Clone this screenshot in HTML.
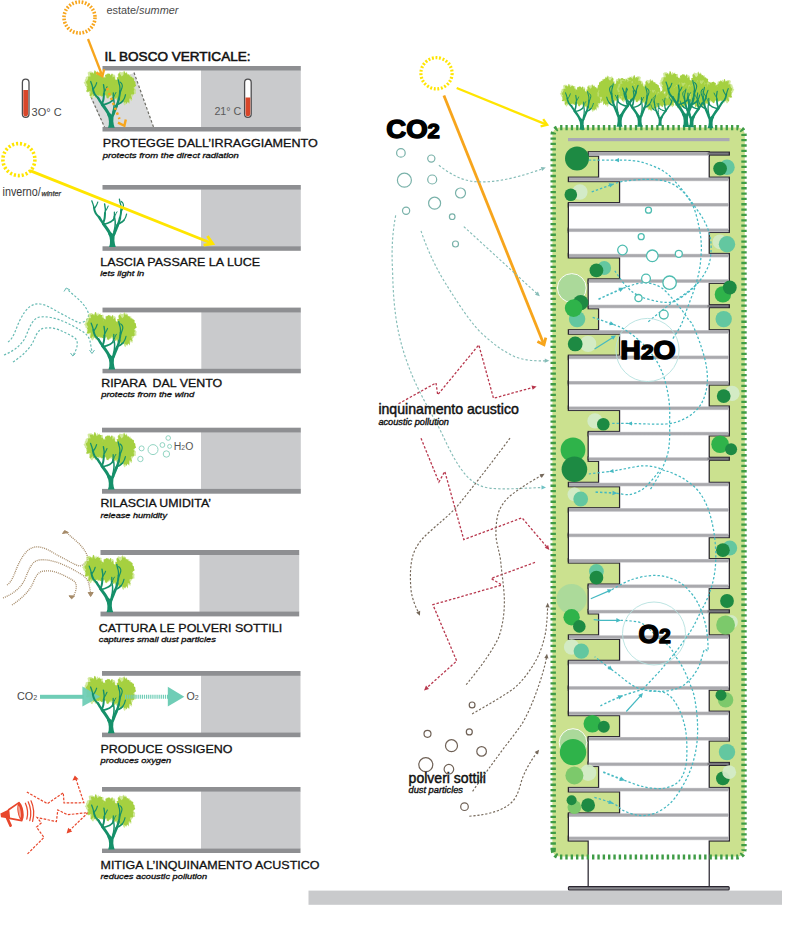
<!DOCTYPE html>
<html lang="it">
<head>
<meta charset="utf-8">
<title>Il Bosco Verticale</title>
<style>
html,body{margin:0;padding:0;background:#fff;}
body{width:800px;height:936px;overflow:hidden;font-family:"Liberation Sans",sans-serif;}
svg{display:block;}
svg text{font-family:"Liberation Sans",sans-serif;}
</style>
</head>
<body>
<svg width="800" height="936" viewBox="0 0 800 936">
<rect width="800" height="936" fill="#fff"/>
<defs>
<g id="trunk"><path d="M-3.3,0.4 L3.4,0.4 L2.5,-2.5 L2.0,-6 L2.2,-10 L3.2,-13.5 L0.6,-12.6 L-1.2,-14 L-4.0,-15.4 L-4.2,-12.5 L-2.9,-9.5 L-2.4,-6 L-2.5,-2.5 Z" fill="#15906a"/>
<path d="M-2.4,-13.0 C-2.9,-13.8 -4.4,-16.4 -5.5,-18.0 C-6.6,-19.6 -8.4,-22.0 -9.0,-22.8" fill="none" stroke="#15906a" stroke-width="3.0" stroke-linecap="round" stroke-linejoin="round"/>
<path d="M-9.0,-22.8 C-9.4,-23.4 -10.8,-25.4 -11.5,-26.5 C-12.2,-27.6 -13.1,-29.1 -13.4,-29.6" fill="none" stroke="#15906a" stroke-width="2.5" stroke-linecap="round" stroke-linejoin="round"/>
<path d="M-13.4,-29.6 C-13.9,-30.1 -15.5,-31.6 -16.2,-32.6 C-16.9,-33.6 -17.2,-34.4 -17.6,-35.5 C-18.0,-36.6 -18.3,-38.4 -18.4,-39.0" fill="none" stroke="#15906a" stroke-width="2.0" stroke-linecap="round" stroke-linejoin="round"/>
<path d="M-18.4,-39.0 C-18.6,-39.6 -19.0,-41.4 -19.4,-42.5 C-19.8,-43.6 -20.4,-45.2 -20.6,-45.8" fill="none" stroke="#15906a" stroke-width="1.3" stroke-linecap="round" stroke-linejoin="round"/>
<path d="M-17.6,-38.6 C-17.3,-39.1 -16.3,-40.5 -15.8,-41.5 C-15.3,-42.5 -14.8,-44.1 -14.6,-44.6" fill="none" stroke="#15906a" stroke-width="1.2" stroke-linecap="round" stroke-linejoin="round"/>
<path d="M-9.4,-23.2 C-9.2,-23.8 -8.5,-25.4 -8.2,-26.5 C-7.9,-27.6 -7.7,-28.8 -7.6,-30.0 C-7.5,-31.2 -7.4,-32.9 -7.4,-33.5" fill="none" stroke="#15906a" stroke-width="2.0" stroke-linecap="round" stroke-linejoin="round"/>
<path d="M-7.4,-33.5 C-7.3,-34.1 -7.0,-35.9 -7.0,-37.0 C-7.0,-38.1 -7.3,-39.1 -7.4,-40.0 C-7.5,-40.9 -7.7,-42.2 -7.8,-42.6" fill="none" stroke="#15906a" stroke-width="1.4" stroke-linecap="round" stroke-linejoin="round"/>
<path d="M-6.9,-35.6 C-6.7,-36.0 -5.9,-37.2 -5.4,-38.0 C-5.0,-38.8 -4.4,-40.2 -4.2,-40.6" fill="none" stroke="#15906a" stroke-width="1.1" stroke-linecap="round" stroke-linejoin="round"/>
<path d="M-8.4,-22.6 C-7.8,-22.7 -6.1,-23.0 -5.0,-23.4 C-3.9,-23.8 -2.6,-24.2 -1.6,-24.8 C-0.6,-25.4 0.6,-26.5 1.0,-26.8" fill="none" stroke="#15906a" stroke-width="1.7" stroke-linecap="round" stroke-linejoin="round"/>
<path d="M1.0,-26.8 C1.1,-27.4 1.7,-29.2 1.9,-30.5 C2.1,-31.8 2.0,-33.8 2.0,-34.5" fill="none" stroke="#15906a" stroke-width="1.3" stroke-linecap="round" stroke-linejoin="round"/>
<path d="M1.6,-12.6 C1.9,-13.3 2.8,-15.5 3.4,-17.0 C4.0,-18.5 4.9,-20.7 5.2,-21.4" fill="none" stroke="#15906a" stroke-width="2.9" stroke-linecap="round" stroke-linejoin="round"/>
<path d="M5.2,-21.4 C5.4,-22.0 6.2,-23.8 6.6,-25.0 C7.0,-26.2 7.4,-28.0 7.6,-28.6" fill="none" stroke="#15906a" stroke-width="2.4" stroke-linecap="round" stroke-linejoin="round"/>
<path d="M7.6,-28.6 C7.7,-29.2 8.2,-31.2 8.4,-32.5 C8.6,-33.8 8.6,-35.8 8.7,-36.4" fill="none" stroke="#15906a" stroke-width="1.9" stroke-linecap="round" stroke-linejoin="round"/>
<path d="M8.7,-36.4 C8.7,-37.2 8.7,-39.6 8.5,-41.0 C8.3,-42.4 7.8,-43.4 7.6,-44.5 C7.3,-45.6 7.1,-46.9 7.0,-47.4" fill="none" stroke="#15906a" stroke-width="1.3" stroke-linecap="round" stroke-linejoin="round"/>
<path d="M5.6,-22.4 C6.1,-22.7 7.6,-23.4 8.6,-24.0 C9.6,-24.6 10.9,-25.8 11.4,-26.2" fill="none" stroke="#15906a" stroke-width="1.7" stroke-linecap="round" stroke-linejoin="round"/>
<path d="M11.4,-26.2 C11.7,-26.7 12.7,-28.3 13.2,-29.4 C13.7,-30.5 14.0,-32.1 14.2,-32.6" fill="none" stroke="#15906a" stroke-width="1.2" stroke-linecap="round" stroke-linejoin="round"/>
<path d="M8.2,-33.0 C8.5,-33.7 9.3,-35.7 9.8,-37.0 C10.3,-38.3 10.9,-39.9 11.0,-41.0 C11.1,-42.1 10.8,-42.9 10.4,-43.6 C10.0,-44.3 9.1,-44.9 8.8,-45.2" fill="none" stroke="#15906a" stroke-width="1.2" stroke-linecap="round" stroke-linejoin="round"/>
<path d="M1.6,-15.0 C1.8,-15.8 2.4,-18.3 2.6,-20.0 C2.8,-21.7 2.9,-23.3 2.8,-25.0 C2.7,-26.7 2.1,-29.2 2.0,-30.0" fill="none" stroke="#15906a" stroke-width="1.5" stroke-linecap="round" stroke-linejoin="round"/>
<path d="M2.4,-30.0 C2.6,-30.5 3.2,-32.2 3.6,-33.0 C4.0,-33.8 4.4,-34.5 4.6,-34.8" fill="none" stroke="#15906a" stroke-width="1.0" stroke-linecap="round" stroke-linejoin="round"/></g>
<g id="leaves"><path d="M-6.0,-43.0 L-5.7,-41.5 L-4.7,-39.8 L-6.5,-38.8 L-6.8,-37.4 L-7.1,-36.0 L-8.9,-35.8 L-8.8,-33.9 L-9.4,-32.6 L-10.1,-31.1 L-12.3,-33.0 L-13.0,-31.7 L-14.2,-32.2 L-14.9,-29.0 L-16.2,-29.4 L-17.2,-32.1 L-18.9,-28.6 L-20.1,-29.1 L-20.9,-30.9 L-21.9,-31.8 L-22.0,-34.1 L-22.4,-35.4 L-24.4,-34.9 L-23.8,-37.1 L-24.6,-38.0 L-25.2,-39.1 L-24.8,-40.6 L-26.4,-41.6 L-26.4,-43.0 L-27.7,-44.6 L-26.4,-45.9 L-26.5,-47.4 L-25.6,-48.6 L-25.5,-50.2 L-24.2,-50.9 L-23.0,-51.4 L-23.7,-54.6 L-22.6,-55.6 L-21.2,-55.8 L-19.9,-55.9 L-18.4,-54.7 L-17.3,-54.6 L-16.2,-54.9 L-15.2,-54.0 L-13.7,-56.5 L-12.9,-54.7 L-11.2,-55.8 L-10.9,-53.4 L-8.8,-54.5 L-8.0,-53.1 L-9.4,-49.7 L-8.2,-49.2 L-5.6,-49.3 L-6.5,-47.2 L-4.5,-46.3 L-6.2,-44.4Z" fill="#c3e17c" opacity="0.75"/>
<path d="M6.1,-41.3 L6.6,-39.9 L6.4,-38.5 L4.9,-37.8 L4.2,-37.0 L4.7,-35.3 L3.9,-34.5 L4.4,-32.1 L3.4,-31.5 L2.5,-31.0 L1.6,-30.5 L0.8,-29.6 L-0.4,-31.1 L-1.1,-29.8 L-2.0,-30.8 L-3.0,-28.1 L-3.6,-31.4 L-5.0,-29.0 L-5.1,-32.1 L-6.6,-30.7 L-6.8,-32.6 L-7.6,-33.2 L-9.1,-33.1 L-7.9,-36.0 L-8.3,-36.9 L-10.8,-36.9 L-10.0,-38.7 L-9.1,-40.2 L-11.5,-41.3 L-11.3,-42.8 L-9.0,-43.6 L-9.5,-45.1 L-8.5,-45.8 L-8.5,-47.2 L-8.7,-48.9 L-7.2,-48.7 L-7.4,-51.1 L-5.7,-49.9 L-5.2,-50.8 L-5.0,-53.6 L-3.8,-52.4 L-2.9,-52.7 L-2.0,-53.5 L-1.1,-52.9 L-0.2,-52.4 L0.3,-50.8 L1.8,-52.7 L3.0,-52.8 L3.9,-51.9 L4.1,-50.1 L4.1,-48.3 L4.6,-47.3 L5.8,-46.7 L6.2,-45.4 L5.0,-43.6 L5.5,-42.5Z" fill="#c3e17c" opacity="0.75"/>
<path d="M23.4,-39.3 L24.8,-37.4 L24.5,-35.6 L24.7,-33.5 L22.2,-33.1 L21.8,-31.6 L21.0,-30.6 L20.4,-29.1 L20.7,-26.0 L18.6,-27.5 L18.2,-24.9 L16.8,-25.8 L15.8,-24.9 L14.8,-23.9 L13.6,-21.8 L12.4,-23.1 L11.6,-26.3 L10.4,-25.5 L9.5,-26.7 L7.3,-24.3 L6.3,-25.7 L5.4,-27.0 L4.4,-28.4 L3.9,-30.2 L2.7,-31.5 L2.7,-33.6 L4.1,-36.1 L1.9,-37.3 L3.0,-39.3 L2.2,-41.2 L3.1,-42.9 L3.8,-44.4 L4.5,-45.9 L4.8,-47.5 L5.8,-48.6 L7.0,-49.1 L6.3,-52.9 L7.4,-54.0 L8.3,-55.7 L9.9,-55.1 L11.2,-55.0 L12.3,-56.2 L13.6,-53.3 L14.9,-55.9 L15.9,-54.4 L16.7,-52.7 L17.8,-52.2 L19.3,-52.8 L19.7,-50.7 L21.0,-50.3 L22.2,-49.5 L22.3,-47.4 L22.0,-45.3 L23.6,-44.5 L23.1,-42.5 L23.2,-40.9Z" fill="#c3e17c" opacity="0.75"/>
<path d="M-8.3,-43.2 L-5.7,-41.7 L-6.2,-40.2 L-8.3,-39.6 L-7.9,-38.0 L-8.6,-37.0 L-8.6,-35.3 L-9.1,-33.8 L-11.5,-35.4 L-12.4,-35.0 L-12.0,-31.1 L-13.6,-32.4 L-14.4,-30.6 L-15.8,-33.9 L-16.7,-31.9 L-18.0,-30.8 L-18.6,-33.3 L-20.5,-30.7 L-21.6,-31.5 L-20.7,-35.6 L-21.4,-36.4 L-23.4,-35.6 L-25.3,-35.7 L-24.1,-38.2 L-23.9,-39.7 L-25.0,-40.6 L-23.7,-42.1 L-24.5,-43.2 L-25.2,-44.5 L-25.2,-45.9 L-24.0,-46.7 L-23.6,-47.8 L-23.1,-48.9 L-23.2,-50.5 L-22.0,-50.9 L-20.7,-50.7 L-21.5,-54.6 L-20.0,-54.1 L-19.0,-54.9 L-17.6,-53.2 L-16.8,-57.1 L-15.6,-56.4 L-14.8,-52.9 L-13.7,-53.6 L-12.2,-54.8 L-11.2,-54.1 L-9.7,-54.1 L-10.0,-51.4 L-8.1,-51.6 L-7.9,-50.0 L-8.5,-48.0 L-7.2,-47.3 L-5.8,-46.3 L-5.7,-44.7Z" fill="#a5d040"/>
<path d="M6.7,-41.6 L6.7,-40.1 L3.9,-39.6 L3.8,-38.5 L5.5,-36.1 L4.8,-35.1 L4.1,-34.2 L2.7,-34.3 L2.6,-32.6 L1.9,-31.8 L1.0,-31.4 L-0.2,-32.7 L-0.8,-31.3 L-1.6,-31.3 L-2.5,-29.9 L-3.5,-28.9 L-4.5,-29.4 L-5.0,-31.5 L-5.6,-32.5 L-6.0,-33.7 L-6.1,-35.2 L-6.6,-36.0 L-8.1,-35.7 L-8.1,-37.1 L-8.6,-38.1 L-10.3,-38.7 L-9.4,-40.3 L-9.6,-41.6 L-8.6,-42.7 L-7.8,-43.6 L-8.5,-45.0 L-7.7,-45.7 L-8.2,-47.6 L-8.8,-49.9 L-7.4,-50.0 L-5.9,-49.2 L-6.3,-52.4 L-5.3,-52.7 L-4.3,-52.9 L-3.5,-54.0 L-2.5,-53.5 L-1.5,-53.6 L-0.8,-51.6 L0.5,-53.9 L1.5,-53.3 L1.2,-49.7 L2.9,-51.1 L3.5,-50.1 L3.6,-48.4 L4.3,-47.6 L4.6,-46.4 L6.1,-45.9 L5.2,-44.1 L6.3,-43.0Z" fill="#a5d040"/>
<path d="M22.1,-39.6 L23.2,-37.9 L22.4,-36.4 L22.9,-34.4 L22.5,-32.7 L20.2,-33.0 L19.5,-32.0 L21.0,-27.5 L18.7,-29.0 L17.8,-28.3 L18.1,-23.5 L16.3,-25.8 L15.5,-23.3 L14.1,-25.2 L13.0,-24.2 L12.2,-27.2 L10.7,-24.9 L9.3,-24.2 L8.8,-26.8 L7.4,-26.8 L6.6,-28.3 L7.6,-31.9 L4.8,-30.7 L4.8,-32.8 L5.4,-35.0 L6.1,-36.9 L2.8,-37.7 L4.2,-39.6 L3.3,-41.4 L3.0,-43.5 L3.9,-45.0 L3.7,-47.3 L6.0,-47.3 L5.4,-50.1 L7.2,-50.0 L6.9,-53.4 L8.1,-54.2 L10.4,-50.8 L11.3,-51.6 L12.1,-52.4 L12.9,-56.9 L14.1,-53.8 L15.3,-54.7 L16.1,-52.5 L17.4,-53.0 L18.1,-51.7 L18.9,-50.6 L20.3,-50.6 L21.1,-49.3 L22.8,-48.9 L22.7,-46.6 L24.1,-45.5 L24.2,-43.4 L24.9,-41.6Z" fill="#a5d040"/>
<path d="M-3.4,-38.0 L-3.4,-37.1 L-4.2,-36.4 L-4.7,-35.8 L-5.4,-35.5 L-4.6,-33.9 L-5.2,-33.6 L-5.2,-32.4 L-6.2,-32.7 L-6.2,-31.3 L-7.2,-32.2 L-7.4,-30.5 L-8.1,-30.5 L-8.7,-31.3 L-9.3,-30.9 L-9.9,-30.6 L-10.3,-32.1 L-11.0,-31.4 L-11.8,-31.2 L-11.7,-32.9 L-12.8,-32.3 L-13.1,-33.2 L-13.8,-33.6 L-13.2,-35.1 L-12.9,-36.0 L-14.4,-36.2 L-14.6,-37.1 L-13.9,-38.0 L-13.2,-38.7 L-13.3,-39.4 L-14.0,-40.5 L-13.1,-40.9 L-13.9,-42.5 L-13.0,-42.7 L-12.0,-42.5 L-12.2,-44.0 L-11.4,-43.7 L-11.3,-45.5 L-10.7,-45.8 L-9.9,-44.9 L-9.3,-45.4 L-8.7,-45.5 L-8.0,-45.7 L-7.3,-46.0 L-7.4,-43.2 L-6.6,-43.7 L-5.9,-43.8 L-5.8,-42.7 L-5.0,-42.7 L-5.5,-41.2 L-3.9,-41.6 L-4.3,-40.4 L-4.9,-39.4 L-3.7,-38.9Z" fill="#a5d040"/>
<path d="M10.1,-36.5 L9.8,-35.7 L10.7,-34.5 L9.4,-34.2 L10.0,-32.9 L9.5,-32.3 L8.7,-32.3 L8.9,-30.7 L7.9,-31.3 L7.9,-29.8 L7.1,-30.4 L6.7,-30.1 L6.3,-28.9 L5.8,-27.5 L5.3,-29.7 L4.7,-29.5 L4.0,-28.4 L3.2,-27.8 L2.9,-29.4 L2.6,-30.3 L1.4,-29.6 L2.4,-32.3 L0.7,-31.5 L1.4,-33.2 L1.5,-34.2 L1.4,-34.9 L0.9,-35.6 L-0.1,-36.5 L1.2,-37.3 L0.5,-38.4 L0.5,-39.4 L1.3,-39.9 L1.2,-41.0 L2.3,-40.7 L2.7,-41.3 L2.9,-42.2 L2.8,-43.9 L3.6,-43.6 L4.2,-43.6 L4.6,-44.6 L5.2,-44.3 L5.8,-43.8 L6.5,-45.3 L7.0,-44.8 L7.3,-43.1 L8.1,-43.6 L8.5,-43.0 L9.4,-43.2 L9.7,-42.1 L9.3,-40.5 L10.8,-40.8 L9.5,-38.8 L10.2,-38.3 L11.0,-37.5Z" fill="#a5d040"/></g>
<g id="tree"><use href="#leaves"/><use href="#trunk"/></g>
<g id="flow3">
<path d="M8,342 C14,338 16,328 20,320 C26,308 32,303 40,304 C48,305 54,310 60,313 C68,317 74,321 80,323 C86,322 90,318 88,312 C84,302 74,296 67,289"/>
<path d="M4,355 C14,351 22,345 26,336 C30,326 33,318 40,317 C47,316 54,318 60,320 C68,323 75,327 80,330 C86,333 89,337 90,341 L92,352"/>
<path d="M13,362 C22,356 30,349 34,340 C37,332 40,328 46,328 C53,327 60,330 66,333 C72,336 76,338 77,341 C78,346 76,351 73,355"/>
</g>
</defs>
<rect x="201" y="70.0" width="99.8" height="57.5" fill="#c9cacc"/>
<rect x="102.5" y="66.0" width="198.3" height="4.5" fill="#8e8f92"/>
<rect x="102.5" y="127.0" width="198.3" height="4.5" fill="#8e8f92"/>
<rect x="201" y="189.1" width="99.8" height="57.7" fill="#c9cacc"/>
<rect x="102.5" y="185.0" width="198.3" height="4.6" fill="#8e8f92"/>
<rect x="102.5" y="246.3" width="198.3" height="4.5" fill="#8e8f92"/>
<rect x="201.3" y="311.9" width="99.5" height="57.4" fill="#c9cacc"/>
<rect x="102.5" y="307.6" width="198.3" height="4.8" fill="#8e8f92"/>
<rect x="102.5" y="368.8" width="198.3" height="4.5" fill="#8e8f92"/>
<rect x="201" y="431.9" width="99.8" height="57.5" fill="#c9cacc"/>
<rect x="102.0" y="427.7" width="198.8" height="4.7" fill="#8e8f92"/>
<rect x="102.0" y="488.9" width="198.8" height="4.8" fill="#8e8f92"/>
<rect x="199.5" y="554.5" width="99.7" height="57.6" fill="#c9cacc"/>
<rect x="100.5" y="550.0" width="198.7" height="5.0" fill="#8e8f92"/>
<rect x="100.5" y="611.6" width="198.7" height="4.8" fill="#8e8f92"/>
<rect x="201" y="675.3" width="99.5" height="57.8" fill="#c9cacc"/>
<rect x="102.0" y="671.0" width="198.5" height="4.8" fill="#8e8f92"/>
<rect x="102.0" y="732.6" width="198.5" height="4.6" fill="#8e8f92"/>
<rect x="201" y="791.1" width="99.5" height="58.0" fill="#c9cacc"/>
<rect x="102.0" y="787.0" width="198.5" height="4.6" fill="#8e8f92"/>
<rect x="102.0" y="848.6" width="198.5" height="4.4" fill="#8e8f92"/>
<text xml:space="preserve" x="102.8" y="147.1" font-size="11.8" font-weight="normal" font-style="normal" fill="#111" textLength="215" lengthAdjust="spacingAndGlyphs" stroke="#111" stroke-width="0.3">PROTEGGE DALL’IRRAGGIAMENTO</text>
<text xml:space="preserve" x="102.8" y="157.7" font-size="7.7" font-weight="normal" font-style="italic" fill="#111" textLength="136" lengthAdjust="spacingAndGlyphs" stroke="#111" stroke-width="0.3">protects from the direct radiation</text>
<text xml:space="preserve" x="100.2" y="265.7" font-size="11.8" font-weight="normal" font-style="normal" fill="#111" textLength="160" lengthAdjust="spacingAndGlyphs" stroke="#111" stroke-width="0.3">LASCIA PASSARE LA LUCE</text>
<text xml:space="preserve" x="100.2" y="276.0" font-size="7.7" font-weight="normal" font-style="italic" fill="#111" textLength="44" lengthAdjust="spacingAndGlyphs" stroke="#111" stroke-width="0.3">lets light in</text>
<text xml:space="preserve" x="101.2" y="386.8" font-size="11.8" font-weight="normal" font-style="normal" fill="#111" textLength="121" lengthAdjust="spacingAndGlyphs" stroke="#111" stroke-width="0.3">RIPARA  DAL VENTO</text>
<text xml:space="preserve" x="101.2" y="396.5" font-size="7.7" font-weight="normal" font-style="italic" fill="#111" textLength="93" lengthAdjust="spacingAndGlyphs" stroke="#111" stroke-width="0.3">protects from the wind</text>
<text xml:space="preserve" x="100.4" y="507.2" font-size="11.8" font-weight="normal" font-style="normal" fill="#111" textLength="110.6" lengthAdjust="spacingAndGlyphs" stroke="#111" stroke-width="0.3">RILASCIA UMIDITA’</text>
<text xml:space="preserve" x="100.4" y="518.0" font-size="7.7" font-weight="normal" font-style="italic" fill="#111" textLength="66.6" lengthAdjust="spacingAndGlyphs" stroke="#111" stroke-width="0.3">release humidity</text>
<text xml:space="preserve" x="98.8" y="631.9" font-size="11.8" font-weight="normal" font-style="normal" fill="#111" textLength="183.3" lengthAdjust="spacingAndGlyphs" stroke="#111" stroke-width="0.3">CATTURA LE POLVERI SOTTILI</text>
<text xml:space="preserve" x="98.8" y="642.0" font-size="7.7" font-weight="normal" font-style="italic" fill="#111" textLength="117" lengthAdjust="spacingAndGlyphs" stroke="#111" stroke-width="0.3">captures small dust particles</text>
<text xml:space="preserve" x="100.5" y="753.0" font-size="11.8" font-weight="normal" font-style="normal" fill="#111" textLength="132" lengthAdjust="spacingAndGlyphs" stroke="#111" stroke-width="0.3">PRODUCE OSSIGENO</text>
<text xml:space="preserve" x="100.5" y="763.0" font-size="7.7" font-weight="normal" font-style="italic" fill="#111" textLength="70.8" lengthAdjust="spacingAndGlyphs" stroke="#111" stroke-width="0.3">produces oxygen</text>
<text xml:space="preserve" x="100.5" y="868.6" font-size="11.8" font-weight="normal" font-style="normal" fill="#111" textLength="219" lengthAdjust="spacingAndGlyphs" stroke="#111" stroke-width="0.3">MITIGA L’INQUINAMENTO ACUSTICO</text>
<text xml:space="preserve" x="100.5" y="879.4" font-size="7.7" font-weight="normal" font-style="italic" fill="#111" textLength="106.6" lengthAdjust="spacingAndGlyphs" stroke="#111" stroke-width="0.3">reduces acoustic pollution</text>
<text xml:space="preserve" x="104.5" y="60.8" font-size="13" font-weight="normal" font-style="normal" fill="#111" textLength="146" lengthAdjust="spacingAndGlyphs" stroke="#111" stroke-width="0.55">IL BOSCO VERTICALE:</text>
<circle cx="79.5" cy="17.5" r="15.5" fill="none" stroke="#f7a51c" stroke-width="3.6" stroke-dasharray="1.7 1.55"/>
<text xml:space="preserve" x="106.4" y="14.4" font-size="10.4" font-weight="normal" font-style="normal" fill="#4a4a4a" textLength="72" lengthAdjust="spacingAndGlyphs">estate/<tspan font-style="italic">summer</tspan></text>
<path d="M91,99 L104,127 L153.5,127 L134,73 L120,78 Z" fill="#dadbdc"/>
<path d="M91,97 L104.5,127 M134,72.5 L153.5,127" fill="none" stroke="#6d6d66" stroke-width="1.2" stroke-dasharray="2.6 2"/>
<use href="#tree" x="111.3" y="127.3"/>
<path d="M88,39 L101.6,74" stroke="#f7a51c" stroke-width="2.3" fill="none"/>
<path d="M96.2,72.5 L102.4,76.2 L104.2,69.2" stroke="#f7a51c" stroke-width="2.3" fill="none" stroke-linejoin="miter"/>
<path d="M107,88 L119.5,119" stroke="#f7a51c" stroke-width="2.5" fill="none" stroke-dasharray="2.4 2.9"/>
<path d="M118,122.6 L124.4,125.8 L125.8,119.4" stroke="#f7a51c" stroke-width="2.4" fill="none"/>
<rect x="22.4" y="79.2" width="6.6" height="38.2" rx="3.3" fill="#fff" stroke="#4d4d4f" stroke-width="1.3"/>
<path d="M23.3,90 H28.099999999999998 V114.0 A2.4,2.4 0 0 1 23.3,114.0 Z" fill="#d8462a"/>
<rect x="244.6" y="79.2" width="6.6" height="38.2" rx="3.3" fill="#fff" stroke="#4d4d4f" stroke-width="1.3"/>
<path d="M245.5,97.5 H250.3 V114.0 A2.4,2.4 0 0 1 245.5,114.0 Z" fill="#d8462a"/>
<text xml:space="preserve" x="31.6" y="115.6" font-size="10.6" font-weight="normal" font-style="normal" fill="#4a4a4a" textLength="30" lengthAdjust="spacingAndGlyphs">3O° C</text>
<text xml:space="preserve" x="214.4" y="115.4" font-size="10.6" font-weight="normal" font-style="normal" fill="#5a5a5a" textLength="27" lengthAdjust="spacingAndGlyphs">21° C</text>
<circle cx="18.9" cy="159.6" r="16" fill="none" stroke="#ffe500" stroke-width="3.6" stroke-dasharray="2.1 1.9"/>
<text xml:space="preserve" x="2.6" y="196" font-size="13.4" font-weight="normal" font-style="normal" fill="#3a3a3a" textLength="38.2" lengthAdjust="spacingAndGlyphs">inverno/</text>
<text xml:space="preserve" x="41.4" y="196" font-size="6.4" font-weight="normal" font-style="italic" fill="#3a3a3a" textLength="19.6" lengthAdjust="spacingAndGlyphs" stroke="#3a3a3a" stroke-width="0.25">winter</text>
<use href="#trunk" x="112.4" y="246.6"/>
<path d="M30,170.6 L211,243" stroke="#ffe500" stroke-width="2.8" fill="none"/>
<path d="M203.6,245.2 L212.8,243.7 L207.4,236" stroke="#ffe500" stroke-width="2.8" fill="none"/>
<use href="#flow3" fill="none" stroke="#66bab3" stroke-width="1.2" stroke-dasharray="2.2 1.8"/>
<path d="M64,291.5 L66.2,288 L70,290" stroke="#66bab3" stroke-width="1" fill="none"/>
<path d="M89.5,350 L92,353.5 L94.5,350 M70.5,353 L72.8,356 L75.5,353.5" stroke="#66bab3" stroke-width="1" fill="none"/>
<use href="#tree" x="111.8" y="369"/>
<use href="#tree" x="111.2" y="489.2"/>
<circle cx="141.6" cy="448.4" r="2.5" fill="none" stroke="#86cfbb" stroke-width="0.9"/>
<circle cx="140.4" cy="459" r="2.7" fill="none" stroke="#86cfbb" stroke-width="0.9"/>
<circle cx="153" cy="449.6" r="5" fill="none" stroke="#86cfbb" stroke-width="0.9"/>
<circle cx="162.4" cy="445" r="2.4" fill="none" stroke="#86cfbb" stroke-width="0.9"/>
<circle cx="168.2" cy="438" r="2.3" fill="none" stroke="#86cfbb" stroke-width="0.9"/>
<circle cx="169.6" cy="446.4" r="2" fill="none" stroke="#86cfbb" stroke-width="0.9"/>
<circle cx="166.4" cy="454" r="3.2" fill="none" stroke="#86cfbb" stroke-width="0.9"/>
<text xml:space="preserve" x="173.8" y="450.2" font-size="10" font-weight="normal" font-style="normal" fill="#555" textLength="19.5" lengthAdjust="spacingAndGlyphs">H<tspan font-size="6.5">2</tspan>O</text>
<use href="#flow3" x="-1" y="243" fill="none" stroke="#a58a68" stroke-width="1.3" stroke-dasharray="1 1"/>
<path d="M62.5,533.5 L64.6,530.6 L68.4,532.5 Z M88.2,592.5 L90.6,596.5 L93.2,592.5 Z M69,595.8 L71.5,598.8 L74.6,596 Z" stroke="#a58a68" stroke-width="1" fill="#a58a68"/>
<use href="#tree" x="109.8" y="611.9"/>
<text xml:space="preserve" x="17" y="700.4" font-size="10.6" font-weight="normal" font-style="normal" fill="#4a4a4a" textLength="20.2" lengthAdjust="spacingAndGlyphs">CO<tspan font-size="7">2</tspan></text>
<text xml:space="preserve" x="186.4" y="700.4" font-size="10.6" font-weight="normal" font-style="normal" fill="#4a4a4a" textLength="12.2" lengthAdjust="spacingAndGlyphs">O<tspan font-size="7">2</tspan></text>
<rect x="40" y="694.8" width="44" height="4" fill="#6fcdb6"/>
<use href="#leaves" x="111.2" y="732.8"/>
<path d="M82.4,686.6 L100.2,696.7 L82.4,706.5 Z" fill="#6fcdb6" opacity="0.95"/>
<use href="#trunk" x="111.2" y="732.8"/>
<path d="M125,696.8 H168" stroke="#6fcdb6" stroke-width="4" stroke-dasharray="1.2 0.9" fill="none"/>
<path d="M167.8,686.8 L184.3,696.8 L167.8,706.6 Z" fill="#6fcdb6"/>
<path d="M26.8,792 L47.5,803.7 L63.3,792.7 L64,803 L83.9,802.7 L75.4,777.5" fill="none" stroke="#e8472c" stroke-width="1.2" stroke-dasharray="2.6 1.4"/>
<path d="M72.4,780.5 L74.8,775.6 L78.6,779.2 Z" fill="#e8472c"/>
<path d="M27.5,853.9 L44,837.4 L36.5,827.1 L41.3,823 L37.1,817.5 L56.4,821.6 L57.8,809.9 L67.4,814.7 L88,812.6 L69,831" fill="none" stroke="#e8472c" stroke-width="1.2" stroke-dasharray="2.6 1.4"/>
<path d="M66.6,833.4 L68.2,827.8 L72.2,831.4 Z" fill="#e8472c"/>
<path d="M0.4,813.4 L9.2,809.2 L10.2,818.8 L1.0,817.2 Z" fill="#e8472c"/>
<path d="M8.6,809.8 L19,802.6 M9.6,818.4 L21.8,820.6" stroke="#e8472c" stroke-width="1.7" fill="none" stroke-linecap="round"/>
<ellipse cx="20.5" cy="811.5" rx="2.9" ry="9.2" transform="rotate(-9 20.5 811.5)" fill="#e8472c"/>
<ellipse cx="19.6" cy="811.7" rx="1.1" ry="6" transform="rotate(-9 19.6 811.7)" fill="#f4a594"/>
<path d="M7.0,817.6 L10.6,825.6" stroke="#e8472c" stroke-width="2.7" fill="none" stroke-linecap="round"/>
<path d="M25.4,803.2 Q29,811 26.8,819.2 M28.2,801.8 Q32.4,810.8 29.8,820.6 M31,800.8 Q35.4,810.4 32.6,821.4" fill="none" stroke="#e8472c" stroke-width="1.25" stroke-linecap="round"/>
<use href="#tree" transform="translate(111.4,849) scale(0.96)"/>
<rect x="308.5" y="890.6" width="473.5" height="14.2" fill="#c9cacc"/>
<rect x="552.4" y="127.6" width="192.4" height="729" rx="7" fill="#cbe18f"/>
<path d="M553.2,850 V134.6 A7,7 0 0 1 560.2,127.6 H737 A7,7 0 0 1 744,134.6 V850" fill="none" stroke="#3f9c46" stroke-width="5.4" stroke-dasharray="2.3 3.04"/>
<rect x="568" y="138" width="161.5" height="3.2" fill="#a9a9b4"/>
<rect x="599.20" y="153.50" width="109.40" height="25.63" fill="#2a2630" stroke="#2a2630" stroke-width="2.5"/>
<rect x="620.20" y="178.93" width="108.50" height="25.63" fill="#2a2630" stroke="#2a2630" stroke-width="2.5"/>
<rect x="569.00" y="204.36" width="159.70" height="25.63" fill="#2a2630" stroke="#2a2630" stroke-width="2.5"/>
<rect x="569.00" y="229.79" width="139.60" height="25.63" fill="#2a2630" stroke="#2a2630" stroke-width="2.5"/>
<rect x="620.20" y="255.22" width="108.50" height="25.63" fill="#2a2630" stroke="#2a2630" stroke-width="2.5"/>
<rect x="588.80" y="280.65" width="119.80" height="25.63" fill="#2a2630" stroke="#2a2630" stroke-width="2.5"/>
<rect x="599.20" y="306.08" width="109.40" height="25.63" fill="#2a2630" stroke="#2a2630" stroke-width="2.5"/>
<rect x="620.20" y="331.51" width="108.50" height="25.63" fill="#2a2630" stroke="#2a2630" stroke-width="2.5"/>
<rect x="569.00" y="356.94" width="159.70" height="25.63" fill="#2a2630" stroke="#2a2630" stroke-width="2.5"/>
<rect x="569.00" y="382.37" width="139.60" height="25.63" fill="#2a2630" stroke="#2a2630" stroke-width="2.5"/>
<rect x="620.20" y="407.80" width="108.50" height="25.63" fill="#2a2630" stroke="#2a2630" stroke-width="2.5"/>
<rect x="588.80" y="433.23" width="119.80" height="25.63" fill="#2a2630" stroke="#2a2630" stroke-width="2.5"/>
<rect x="599.20" y="458.66" width="109.40" height="25.63" fill="#2a2630" stroke="#2a2630" stroke-width="2.5"/>
<rect x="620.20" y="484.09" width="108.50" height="25.63" fill="#2a2630" stroke="#2a2630" stroke-width="2.5"/>
<rect x="569.00" y="509.52" width="159.70" height="25.63" fill="#2a2630" stroke="#2a2630" stroke-width="2.5"/>
<rect x="569.00" y="534.95" width="139.60" height="25.63" fill="#2a2630" stroke="#2a2630" stroke-width="2.5"/>
<rect x="620.20" y="560.38" width="108.50" height="25.63" fill="#2a2630" stroke="#2a2630" stroke-width="2.5"/>
<rect x="588.80" y="585.81" width="119.80" height="25.63" fill="#2a2630" stroke="#2a2630" stroke-width="2.5"/>
<rect x="599.20" y="611.24" width="109.40" height="25.63" fill="#2a2630" stroke="#2a2630" stroke-width="2.5"/>
<rect x="620.20" y="636.67" width="108.50" height="25.63" fill="#2a2630" stroke="#2a2630" stroke-width="2.5"/>
<rect x="569.00" y="662.10" width="159.70" height="25.63" fill="#2a2630" stroke="#2a2630" stroke-width="2.5"/>
<rect x="569.00" y="687.53" width="139.60" height="25.63" fill="#2a2630" stroke="#2a2630" stroke-width="2.5"/>
<rect x="620.20" y="712.96" width="108.50" height="25.63" fill="#2a2630" stroke="#2a2630" stroke-width="2.5"/>
<rect x="588.80" y="738.39" width="119.80" height="25.63" fill="#2a2630" stroke="#2a2630" stroke-width="2.5"/>
<rect x="599.20" y="763.82" width="109.40" height="25.63" fill="#2a2630" stroke="#2a2630" stroke-width="2.5"/>
<rect x="620.20" y="789.25" width="108.50" height="25.63" fill="#2a2630" stroke="#2a2630" stroke-width="2.5"/>
<rect x="569.00" y="814.68" width="159.70" height="25.63" fill="#2a2630" stroke="#2a2630" stroke-width="2.5"/>
<rect x="588.80" y="839.11" width="119.80" height="48.39" fill="#2a2630" stroke="#2a2630" stroke-width="2.5"/>
<rect x="588.80" y="152.40" width="119.80" height="3.10" fill="#2a2630" stroke="#2a2630" stroke-width="2.5"/>
<rect x="569.00" y="177.83" width="159.70" height="3.10" fill="#2a2630" stroke="#2a2630" stroke-width="2.5"/>
<rect x="569.00" y="203.26" width="159.70" height="3.10" fill="#2a2630" stroke="#2a2630" stroke-width="2.5"/>
<rect x="569.00" y="228.69" width="159.70" height="3.10" fill="#2a2630" stroke="#2a2630" stroke-width="2.5"/>
<rect x="569.00" y="254.12" width="159.70" height="3.10" fill="#2a2630" stroke="#2a2630" stroke-width="2.5"/>
<rect x="588.80" y="279.55" width="139.90" height="3.10" fill="#2a2630" stroke="#2a2630" stroke-width="2.5"/>
<rect x="588.80" y="304.98" width="119.80" height="3.10" fill="#2a2630" stroke="#2a2630" stroke-width="2.5"/>
<rect x="569.00" y="330.41" width="159.70" height="3.10" fill="#2a2630" stroke="#2a2630" stroke-width="2.5"/>
<rect x="569.00" y="355.84" width="159.70" height="3.10" fill="#2a2630" stroke="#2a2630" stroke-width="2.5"/>
<rect x="569.00" y="381.27" width="159.70" height="3.10" fill="#2a2630" stroke="#2a2630" stroke-width="2.5"/>
<rect x="569.00" y="406.70" width="159.70" height="3.10" fill="#2a2630" stroke="#2a2630" stroke-width="2.5"/>
<rect x="588.80" y="432.13" width="139.90" height="3.10" fill="#2a2630" stroke="#2a2630" stroke-width="2.5"/>
<rect x="588.80" y="457.56" width="119.80" height="3.10" fill="#2a2630" stroke="#2a2630" stroke-width="2.5"/>
<rect x="569.00" y="482.99" width="159.70" height="3.10" fill="#2a2630" stroke="#2a2630" stroke-width="2.5"/>
<rect x="569.00" y="508.42" width="159.70" height="3.10" fill="#2a2630" stroke="#2a2630" stroke-width="2.5"/>
<rect x="569.00" y="533.85" width="159.70" height="3.10" fill="#2a2630" stroke="#2a2630" stroke-width="2.5"/>
<rect x="569.00" y="559.28" width="159.70" height="3.10" fill="#2a2630" stroke="#2a2630" stroke-width="2.5"/>
<rect x="588.80" y="584.71" width="139.90" height="3.10" fill="#2a2630" stroke="#2a2630" stroke-width="2.5"/>
<rect x="588.80" y="610.14" width="119.80" height="3.10" fill="#2a2630" stroke="#2a2630" stroke-width="2.5"/>
<rect x="569.00" y="635.57" width="159.70" height="3.10" fill="#2a2630" stroke="#2a2630" stroke-width="2.5"/>
<rect x="569.00" y="661.00" width="159.70" height="3.10" fill="#2a2630" stroke="#2a2630" stroke-width="2.5"/>
<rect x="569.00" y="686.43" width="159.70" height="3.10" fill="#2a2630" stroke="#2a2630" stroke-width="2.5"/>
<rect x="569.00" y="711.86" width="159.70" height="3.10" fill="#2a2630" stroke="#2a2630" stroke-width="2.5"/>
<rect x="588.80" y="737.29" width="139.90" height="3.10" fill="#2a2630" stroke="#2a2630" stroke-width="2.5"/>
<rect x="588.80" y="762.72" width="119.80" height="3.10" fill="#2a2630" stroke="#2a2630" stroke-width="2.5"/>
<rect x="569.00" y="788.15" width="159.70" height="3.10" fill="#2a2630" stroke="#2a2630" stroke-width="2.5"/>
<rect x="569.00" y="813.58" width="159.70" height="3.10" fill="#2a2630" stroke="#2a2630" stroke-width="2.5"/>
<rect x="569.00" y="836.81" width="159.70" height="3.10" fill="#2a2630" stroke="#2a2630" stroke-width="2.5"/>
<rect x="707.60" y="152.80" width="21.10" height="1.60" fill="#2a2630" stroke="#2a2630" stroke-width="2.5"/>
<rect x="707.60" y="305.38" width="21.10" height="1.60" fill="#2a2630" stroke="#2a2630" stroke-width="2.5"/>
<rect x="707.60" y="457.96" width="21.10" height="1.60" fill="#2a2630" stroke="#2a2630" stroke-width="2.5"/>
<rect x="707.60" y="610.54" width="21.10" height="1.60" fill="#2a2630" stroke="#2a2630" stroke-width="2.5"/>
<rect x="707.60" y="763.12" width="21.10" height="1.60" fill="#2a2630" stroke="#2a2630" stroke-width="2.5"/>
<defs><linearGradient id="slab" x1="0" y1="0" x2="0" y2="1"><stop offset="0" stop-color="#c6c6ca"/><stop offset="0.3" stop-color="#a9a9ad"/><stop offset="0.7" stop-color="#a9a9ad"/><stop offset="1" stop-color="#d2d2d5"/></linearGradient></defs>
<rect x="599.20" y="153.50" width="109.40" height="25.63" fill="#fff"/>
<rect x="620.20" y="178.93" width="108.50" height="25.63" fill="#fff"/>
<rect x="569.00" y="204.36" width="159.70" height="25.63" fill="#fff"/>
<rect x="569.00" y="229.79" width="139.60" height="25.63" fill="#fff"/>
<rect x="620.20" y="255.22" width="108.50" height="25.63" fill="#fff"/>
<rect x="588.80" y="280.65" width="119.80" height="25.63" fill="#fff"/>
<rect x="599.20" y="306.08" width="109.40" height="25.63" fill="#fff"/>
<rect x="620.20" y="331.51" width="108.50" height="25.63" fill="#fff"/>
<rect x="569.00" y="356.94" width="159.70" height="25.63" fill="#fff"/>
<rect x="569.00" y="382.37" width="139.60" height="25.63" fill="#fff"/>
<rect x="620.20" y="407.80" width="108.50" height="25.63" fill="#fff"/>
<rect x="588.80" y="433.23" width="119.80" height="25.63" fill="#fff"/>
<rect x="599.20" y="458.66" width="109.40" height="25.63" fill="#fff"/>
<rect x="620.20" y="484.09" width="108.50" height="25.63" fill="#fff"/>
<rect x="569.00" y="509.52" width="159.70" height="25.63" fill="#fff"/>
<rect x="569.00" y="534.95" width="139.60" height="25.63" fill="#fff"/>
<rect x="620.20" y="560.38" width="108.50" height="25.63" fill="#fff"/>
<rect x="588.80" y="585.81" width="119.80" height="25.63" fill="#fff"/>
<rect x="599.20" y="611.24" width="109.40" height="25.63" fill="#fff"/>
<rect x="620.20" y="636.67" width="108.50" height="25.63" fill="#fff"/>
<rect x="569.00" y="662.10" width="159.70" height="25.63" fill="#fff"/>
<rect x="569.00" y="687.53" width="139.60" height="25.63" fill="#fff"/>
<rect x="620.20" y="712.96" width="108.50" height="25.63" fill="#fff"/>
<rect x="588.80" y="738.39" width="119.80" height="25.63" fill="#fff"/>
<rect x="599.20" y="763.82" width="109.40" height="25.63" fill="#fff"/>
<rect x="620.20" y="789.25" width="108.50" height="25.63" fill="#fff"/>
<rect x="569.00" y="814.68" width="159.70" height="25.63" fill="#fff"/>
<rect x="588.80" y="839.11" width="119.80" height="48.39" fill="#fff"/>
<rect x="588.80" y="152.10" width="119.80" height="3.70" fill="url(#slab)"/>
<rect x="569.00" y="177.53" width="159.70" height="3.70" fill="url(#slab)"/>
<rect x="569.00" y="202.96" width="159.70" height="3.70" fill="url(#slab)"/>
<rect x="569.00" y="228.39" width="159.70" height="3.70" fill="url(#slab)"/>
<rect x="569.00" y="253.82" width="159.70" height="3.70" fill="url(#slab)"/>
<rect x="588.80" y="279.25" width="139.90" height="3.70" fill="url(#slab)"/>
<rect x="588.80" y="304.68" width="119.80" height="3.70" fill="url(#slab)"/>
<rect x="569.00" y="330.11" width="159.70" height="3.70" fill="url(#slab)"/>
<rect x="569.00" y="355.54" width="159.70" height="3.70" fill="url(#slab)"/>
<rect x="569.00" y="380.97" width="159.70" height="3.70" fill="url(#slab)"/>
<rect x="569.00" y="406.40" width="159.70" height="3.70" fill="url(#slab)"/>
<rect x="588.80" y="431.83" width="139.90" height="3.70" fill="url(#slab)"/>
<rect x="588.80" y="457.26" width="119.80" height="3.70" fill="url(#slab)"/>
<rect x="569.00" y="482.69" width="159.70" height="3.70" fill="url(#slab)"/>
<rect x="569.00" y="508.12" width="159.70" height="3.70" fill="url(#slab)"/>
<rect x="569.00" y="533.55" width="159.70" height="3.70" fill="url(#slab)"/>
<rect x="569.00" y="558.98" width="159.70" height="3.70" fill="url(#slab)"/>
<rect x="588.80" y="584.41" width="139.90" height="3.70" fill="url(#slab)"/>
<rect x="588.80" y="609.84" width="119.80" height="3.70" fill="url(#slab)"/>
<rect x="569.00" y="635.27" width="159.70" height="3.70" fill="url(#slab)"/>
<rect x="569.00" y="660.70" width="159.70" height="3.70" fill="url(#slab)"/>
<rect x="569.00" y="686.13" width="159.70" height="3.70" fill="url(#slab)"/>
<rect x="569.00" y="711.56" width="159.70" height="3.70" fill="url(#slab)"/>
<rect x="588.80" y="736.99" width="139.90" height="3.70" fill="url(#slab)"/>
<rect x="588.80" y="762.42" width="119.80" height="3.70" fill="url(#slab)"/>
<rect x="569.00" y="787.85" width="159.70" height="3.70" fill="url(#slab)"/>
<rect x="569.00" y="813.28" width="159.70" height="3.70" fill="url(#slab)"/>
<rect x="569.00" y="836.51" width="159.70" height="3.70" fill="url(#slab)"/>
<rect x="707.60" y="152.50" width="21.10" height="2.20" fill="#77777c"/>
<rect x="707.60" y="305.08" width="21.10" height="2.20" fill="#77777c"/>
<rect x="707.60" y="457.66" width="21.10" height="2.20" fill="#77777c"/>
<rect x="707.60" y="610.24" width="21.10" height="2.20" fill="#77777c"/>
<rect x="707.60" y="762.82" width="21.10" height="2.20" fill="#77777c"/>
<path d="M553.2,850 A7,7 0 0 0 560.2,857 H737 A7,7 0 0 0 744,850" fill="none" stroke="#3f9c46" stroke-width="5" stroke-dasharray="2.4 2.94"/>
<rect x="568.4" y="886.6" width="160.8" height="3.4" rx="1" fill="#8a8a8f" stroke="#2a2630" stroke-width="1.1"/>
<circle cx="577" cy="158.6" r="12" fill="#1d8a43" opacity="1"/>
<circle cx="727" cy="167.3" r="7.7" fill="#63c7a0" opacity="1"/>
<circle cx="720.1" cy="168.6" r="6.9" fill="#1d8a43" opacity="1"/>
<circle cx="579.9" cy="192" r="7.7" fill="#d3ebc8" opacity="1"/>
<circle cx="570.8" cy="194.8" r="6.3" fill="#1d8a43" opacity="1"/>
<circle cx="720" cy="241.8" r="7.4" fill="#d3ebc8" opacity="0.9"/>
<circle cx="727" cy="244.3" r="8.2" fill="#63c7a0" opacity="1"/>
<circle cx="604.2" cy="268" r="6.9" fill="#63c7a0" opacity="1"/>
<circle cx="596.4" cy="270.4" r="6.9" fill="#1d8a43" opacity="1"/>
<circle cx="571.8" cy="288" r="14.4" fill="#a9d99b" stroke="#fff" stroke-width="1" opacity="0.92"/>
<circle cx="577.1" cy="319.1" r="8.2" fill="#63c7a0" opacity="1"/>
<circle cx="580.7" cy="302.6" r="7.7" fill="#1d8a43" opacity="1"/>
<circle cx="573.6" cy="308.1" r="8.8" fill="#2fb34a" opacity="1"/>
<circle cx="722.9" cy="294.4" r="8.2" fill="#2fb34a" opacity="1"/>
<circle cx="729.8" cy="287.5" r="6.9" fill="#1d8a43" opacity="1"/>
<circle cx="723.7" cy="319.1" r="8.2" fill="#63c7a0" opacity="1"/>
<circle cx="588.1" cy="343.9" r="8.2" fill="#d3ebc8" opacity="0.95"/>
<circle cx="575.2" cy="343.9" r="7.4" fill="#1d8a43" opacity="1"/>
<circle cx="732" cy="393.4" r="7.7" fill="#d3ebc8" opacity="0.95"/>
<circle cx="723.7" cy="396.1" r="6.9" fill="#1d8a43" opacity="1"/>
<circle cx="595" cy="420.9" r="7.7" fill="#d3ebc8" opacity="0.95"/>
<circle cx="603.3" cy="424.2" r="6.3" fill="#1d8a43" opacity="1"/>
<circle cx="573" cy="449.8" r="12.4" fill="#2fb34a" opacity="1"/>
<circle cx="574.4" cy="469.2" r="12.8" fill="#1d8a43" opacity="1"/>
<circle cx="720.1" cy="444.3" r="8.8" fill="#2fb34a" opacity="1"/>
<circle cx="731.1" cy="449.2" r="6" fill="#1d8a43" opacity="1"/>
<circle cx="574.4" cy="494.4" r="6.9" fill="#d3ebc8" opacity="0.95"/>
<circle cx="580.7" cy="499" r="7.4" fill="#63c7a0" opacity="1"/>
<circle cx="729.8" cy="548" r="7.4" fill="#63c7a0" opacity="1"/>
<circle cx="722.9" cy="550.2" r="6.9" fill="#1d8a43" opacity="1"/>
<circle cx="596.4" cy="571.4" r="7.4" fill="#63c7a0" opacity="1"/>
<circle cx="596.4" cy="577.7" r="6.9" fill="#1d8a43" opacity="1"/>
<circle cx="571.6" cy="598.9" r="15" fill="#a9d99b" opacity="0.92"/>
<circle cx="571.6" cy="617.3" r="8.2" fill="#2fb34a" opacity="1"/>
<circle cx="579.3" cy="626.4" r="6.3" fill="#1d8a43" opacity="1"/>
<circle cx="727" cy="601" r="6.9" fill="#1d8a43" opacity="1"/>
<circle cx="731" cy="622" r="6.9" fill="#d3ebc8" opacity="0.95"/>
<circle cx="725.6" cy="625" r="9.4" fill="#7cc96b" opacity="1"/>
<circle cx="571.6" cy="647" r="7.7" fill="#d3ebc8" opacity="0.95"/>
<circle cx="581.3" cy="651.1" r="7.7" fill="#63c7a0" opacity="1"/>
<circle cx="725.6" cy="699.9" r="7.7" fill="#7cc96b" opacity="1"/>
<circle cx="721" cy="695.2" r="5.5" fill="#1d8a43" opacity="1"/>
<circle cx="592.3" cy="723.8" r="8.8" fill="#2fb34a" opacity="1"/>
<circle cx="603.8" cy="726.8" r="6" fill="#1d8a43" opacity="1"/>
<circle cx="573" cy="742.5" r="13.8" fill="#a9d99b" stroke="#fff" stroke-width="1" opacity="0.92"/>
<circle cx="573" cy="752.1" r="13.2" fill="#2fb34a" opacity="1"/>
<circle cx="727" cy="752.1" r="8.2" fill="#63c7a0" opacity="1"/>
<circle cx="588.1" cy="772.8" r="8.2" fill="#d3ebc8" opacity="0.95"/>
<circle cx="574.4" cy="775.5" r="9" fill="#7cc96b" opacity="1"/>
<circle cx="722.9" cy="778.3" r="6.9" fill="#1d8a43" opacity="1"/>
<circle cx="729.2" cy="772.2" r="6.9" fill="#d3ebc8" opacity="0.95"/>
<circle cx="574.4" cy="807.1" r="6.9" fill="#7cc96b" opacity="1"/>
<circle cx="571.6" cy="800.3" r="5" fill="#1d8a43" opacity="1"/>
<circle cx="588.1" cy="805.2" r="6.9" fill="#1d8a43" opacity="1"/>
<use href="#leaves" transform="translate(582.0,129.5) scale(0.80,0.80)"/>
<use href="#leaves" transform="translate(619.5,126.5) scale(-0.90,0.90)"/>
<use href="#leaves" transform="translate(639.8,126.5) scale(0.84,0.84)"/>
<use href="#leaves" transform="translate(660.0,125.5) scale(-0.64,0.64)"/>
<use href="#leaves" transform="translate(686.0,126.5) scale(0.97,0.97)"/>
<use href="#leaves" transform="translate(691.5,127.0) scale(-0.80,0.80)"/>
<use href="#leaves" transform="translate(710.5,128.0) scale(-0.86,0.86)"/>
<use href="#trunk" transform="translate(582.0,129.5) scale(0.80,0.80)"/>
<use href="#trunk" transform="translate(619.5,126.5) scale(-0.90,0.90)"/>
<use href="#trunk" transform="translate(639.8,126.5) scale(0.84,0.84)"/>
<use href="#trunk" transform="translate(660.0,125.5) scale(-0.64,0.64)"/>
<use href="#trunk" transform="translate(686.0,126.5) scale(0.97,0.97)"/>
<use href="#trunk" transform="translate(691.5,127.0) scale(-0.80,0.80)"/>
<use href="#trunk" transform="translate(710.5,128.0) scale(-0.86,0.86)"/>
<circle cx="436.5" cy="73.3" r="15.6" fill="none" stroke="#ffe500" stroke-width="3.2" stroke-dasharray="1.9 1.7"/>
<path d="M456.7,88 L546,124.4" stroke="#ffe500" stroke-width="2.3" fill="none"/>
<path d="M540.6,126.4 L547.2,124.8 L543.2,119.2" stroke="#ffe500" stroke-width="2.3" fill="none"/>
<path d="M443.9,95.6 L543.2,342.8" stroke="#f7a51c" stroke-width="2.8" fill="none"/>
<path d="M537.4,341.4 L544.0,344.8 L545.8,337.6" stroke="#f7a51c" stroke-width="2.8" fill="none"/>
<circle cx="400.9" cy="152.9" r="4.3" fill="none" stroke="#7ab2aa" stroke-width="1.2"/>
<circle cx="431.3" cy="158.6" r="3.6" fill="none" stroke="#7ab2aa" stroke-width="1.2"/>
<circle cx="404.4" cy="180.2" r="7" fill="none" stroke="#7ab2aa" stroke-width="1.2"/>
<circle cx="432.2" cy="179.5" r="4.5" fill="none" stroke="#7ab2aa" stroke-width="1.2"/>
<circle cx="460.5" cy="193" r="5" fill="none" stroke="#7ab2aa" stroke-width="1.2"/>
<circle cx="434.6" cy="203.2" r="6" fill="none" stroke="#7ab2aa" stroke-width="1.2"/>
<circle cx="406.1" cy="210.8" r="3.6" fill="none" stroke="#7ab2aa" stroke-width="1.2"/>
<circle cx="452.2" cy="216.7" r="2.8" fill="none" stroke="#7ab2aa" stroke-width="1.2"/>
<circle cx="455.5" cy="244" r="3" fill="none" stroke="#7ab2aa" stroke-width="1.2"/>
<path d="M438.9,165.2 C450,174 462,181 476.9,181.8 C500,183 525,175 543,168.6" fill="none" stroke="#86bdb8" stroke-width="1.15" stroke-dasharray="2.4 2"/>
<path d="M542.1,171.0 L545.8,167.6 L540.8,167.0 Z" fill="#86bdb8"/>
<path d="M463.8,226.6 L538,294.6" fill="none" stroke="#86bdb8" stroke-width="1.15" stroke-dasharray="2.4 2"/>
<path d="M535.0,294.7 L539.8,296.2 L537.9,291.6 Z" fill="#86bdb8"/>
<path d="M421,230.9 C428,252 438,272 448.4,287.9 C458,303 468,319 480,331.8 C491,342 502,351 515.3,357 C526,360.6 536,361 546,360.8" fill="none" stroke="#86bdb8" stroke-width="1.15" stroke-dasharray="2.4 2"/>
<path d="M544.7,362.8 L549.3,360.8 L544.8,358.5 Z" fill="#86bdb8"/>
<path d="M395.7,215.4 C392,235 391.5,252 392.6,271.3 C393,290 394,304 396.1,318.8 C399,338 404,355 410.4,371 C416,386 426,404 438.9,427.5 C446,442 452,456 460.3,467.9 C468,479 476,486 488.8,488 C505,490 525,488 543,487.5" fill="none" stroke="#86bdb8" stroke-width="1.15" stroke-dasharray="2.4 2"/>
<path d="M541.5,489.5 L546.0,487.4 L541.5,485.3 Z" fill="#6fc2c4"/>
<path d="M398.5,403.8 L436,382.9 L437.7,394.8 L478.8,344.9 L493.5,398.3 L533,387.4" fill="none" stroke="#b8384e" stroke-width="1.3" stroke-dasharray="2.5 1.8"/>
<path d="M532.7,389.8 L536.6,386.4 L531.5,385.6 Z" fill="#b8384e"/>
<path d="M421,438.2 L438.9,482.1 L444.8,471.4 L463.8,539.6 L522,517.8 L547.4,547.6" fill="none" stroke="#b8384e" stroke-width="1.3" stroke-dasharray="2.5 1.8"/>
<path d="M544.7,547.8 L549.4,550.0 L548.1,545.0 Z" fill="#b8384e"/>
<path d="M535,562.4 L491.1,578.5 L501.8,585 L432.9,604.7 L456.7,661 L426.6,688" fill="none" stroke="#b8384e" stroke-width="1.3" stroke-dasharray="2.5 1.8"/>
<path d="M426.0,685.6 L424.0,690.4 L429.0,688.9 Z" fill="#b8384e"/>
<path d="M510,438.2 C492,462 474,486 455.5,508.3 C446,518 438,524 429.4,532 C420,540 415,548 412.8,555.8 C410,566 410,578 411,590 C412,598 415,606 418.6,612.6" fill="none" stroke="#75685a" stroke-width="1.15" stroke-dasharray="2.2 1.8"/>
<path d="M416.2,612.4 L419.9,615.8 L420.2,610.8 Z" fill="#75685a"/>
<path d="M466.2,684.7 C478,670 490,655 498.3,638.4 C503,626 505,610 504.2,595.6 C503.5,583 501.5,572 500.6,560 C499,550 496,542 495.9,534.4 C496,526 496.5,519 498.3,513 C501,505 506,499 512.5,494 C522,487 533,480 542,475.2" fill="none" stroke="#75685a" stroke-width="1.15" stroke-dasharray="2.2 1.8"/>
<path d="M541.7,477.9 L544.6,473.8 L539.6,474.2 Z" fill="#75685a"/>
<path d="M472.1,713.9 C486,706 500,698 512.5,689.5 C522,682 530,671 536.3,659.8 C541,651 544,641 545.8,631.3 C547,622 547.5,613 547.6,606" fill="none" stroke="#75685a" stroke-width="1.15" stroke-dasharray="2.2 1.8"/>
<path d="M549.7,607.4 L547.7,602.8 L545.5,607.3 Z" fill="#75685a"/>
<path d="M472.6,791.3 C481,779 490,767 498.3,755.6 C506,745 515,734 522,723.9 C529,712 534,699 538.6,685.9 C542,676 545,666 546.6,657" fill="none" stroke="#75685a" stroke-width="1.15" stroke-dasharray="2.2 1.8"/>
<path d="M548.5,658.6 L547.0,653.8 L544.3,658.0 Z" fill="#75685a"/>
<path d="M469.3,816.2 C479,815.5 488,814 495.9,811.4 C504,808.5 511,804.5 514.9,798.4 C519,792 520,785.5 522,779.4 C524.5,772.5 528,766 531.5,760.4 C533.5,757 536,754 537.6,751.6" fill="none" stroke="#75685a" stroke-width="1.15" stroke-dasharray="2.2 1.8"/>
<path d="M538.0,754.6 L539.1,749.7 L534.6,752.0 Z" fill="#75685a"/>
<circle cx="472.1" cy="704.9" r="2.9" fill="none" stroke="#6f6156" stroke-width="1.2"/>
<circle cx="427.5" cy="733.8" r="3.5" fill="none" stroke="#6f6156" stroke-width="1.2"/>
<circle cx="469.3" cy="731.9" r="3" fill="none" stroke="#6f6156" stroke-width="1.2"/>
<circle cx="451.5" cy="745.7" r="6" fill="none" stroke="#6f6156" stroke-width="1.2"/>
<circle cx="481.6" cy="751.4" r="4.8" fill="none" stroke="#6f6156" stroke-width="1.2"/>
<circle cx="425.8" cy="764.7" r="7" fill="none" stroke="#6f6156" stroke-width="1.2"/>
<circle cx="448.9" cy="769.2" r="4.8" fill="none" stroke="#6f6156" stroke-width="1.2"/>
<circle cx="464.5" cy="806.7" r="3.8" fill="none" stroke="#6f6156" stroke-width="1.2"/>
<path d="M588.8,160.2 C593.6,160.2 610.0,160.1 617.7,160.2 C625.4,160.3 629.5,160.0 635.0,160.8 C640.5,161.6 645.3,163.0 650.4,165.0 C655.5,167.0 661.0,169.2 665.8,172.7 C670.6,176.2 674.7,181.1 679.2,186.2 C683.7,191.3 688.5,197.7 692.7,203.5 C696.9,209.3 701.3,215.4 704.2,220.8 C707.1,226.2 708.9,231.1 710.0,236.2 C711.1,241.3 711.3,246.4 711.0,251.5 C710.7,256.6 710.1,261.8 708.0,266.9 C705.9,272.0 702.3,277.8 698.5,282.3 C694.7,286.8 689.2,290.6 685.0,293.8 C680.8,297.0 677.7,298.5 673.5,301.5 C669.3,304.5 664.2,308.6 660.0,312.0 C655.8,315.4 650.0,320.3 648.0,322.0" fill="none" stroke="#45b9c2" stroke-width="1.25" stroke-dasharray="2.4 2" opacity="1"/>
<path d="M619.0,158.1 L614.5,160.2 L619.0,162.3 Z" fill="#45b9c2"/>
<path d="M591.7,191.9 L611.9,184.6" fill="none" stroke="#45b9c2" stroke-width="1.5" stroke-dasharray="2.4 2" opacity="1"/>
<path d="M610.2,187.6 L614.0,183.8 L608.6,183.3 Z" fill="#45b9c2"/>
<path d="M611.9,184.6 C613.8,184.1 617.7,182.2 623.5,181.3 C629.3,180.4 639.5,179.4 646.5,179.4 C653.5,179.4 660.0,179.5 665.8,181.3 C671.6,183.1 676.7,186.0 681.2,190.0 C685.7,194.0 689.8,199.6 692.7,205.4 C695.6,211.2 697.1,218.2 698.5,224.6 C699.9,231.0 701.0,237.4 701.3,243.8 C701.6,250.2 701.0,257.3 700.4,263.1 C699.8,268.9 698.8,273.4 697.5,278.5 C696.2,283.6 694.5,288.7 692.7,293.8 C690.9,298.9 688.9,304.0 686.9,309.2 C684.9,314.4 683.5,319.9 681.0,325.0 C678.5,330.1 673.5,337.5 672.0,340.0" fill="none" stroke="#45b9c2" stroke-width="1.25" stroke-dasharray="2.4 2" opacity="1"/>
<path d="M598.5,299.2 L621.0,289.0" fill="none" stroke="#45b9c2" stroke-width="1.6" stroke-dasharray="2.4 2" opacity="1"/>
<path d="M620.3,292.0 L624.0,287.8 L618.4,287.7 Z" fill="#45b9c2"/>
<path d="M623.5,288.1 C626.0,287.3 634.3,284.1 638.8,283.3 C643.3,282.5 646.5,282.5 650.4,283.3 C654.2,284.1 658.4,285.7 661.9,288.1 C665.4,290.5 668.3,294.2 671.5,297.7 C674.7,301.2 678.3,305.5 681.2,309.2 C684.1,312.9 686.9,317.4 688.8,320.0 C690.7,322.6 690.8,321.0 692.7,325.0 C694.6,329.0 698.1,337.5 700.4,344.2 C702.6,350.9 705.1,358.7 706.2,365.4 C707.3,372.1 707.8,378.5 707.1,384.6 C706.5,390.7 704.7,397.1 702.3,401.9 C699.9,406.7 696.6,410.3 692.7,413.5 C688.9,416.7 683.7,419.4 679.2,421.2 C674.7,422.9 670.9,423.5 665.8,424.0 C660.7,424.5 654.4,424.1 648.5,424.0 C642.6,423.9 636.3,423.6 630.2,423.5 C624.1,423.4 615.0,423.5 611.9,423.5" fill="none" stroke="#45b9c2" stroke-width="1.25" stroke-dasharray="2.4 2" opacity="1"/>
<path d="M632.0,421.4 L627.5,423.5 L632.0,425.6 Z" fill="#45b9c2"/>
<path d="M614.8,270.8 C616.7,273.4 622.3,282.0 626.3,286.2 C630.3,290.4 633.5,293.2 638.8,295.8 C644.1,298.4 652.2,300.6 658.0,301.5 C663.8,302.4 668.4,303.1 673.5,301.5 C678.6,299.9 684.6,295.1 688.8,291.9 C693.0,288.7 696.9,283.9 698.5,282.3" fill="none" stroke="#45b9c2" stroke-width="1.25" stroke-dasharray="2.4 2" opacity="1"/>
<path d="M592.7,317.3 L611.5,323.8" fill="none" stroke="#45b9c2" stroke-width="1.3" stroke-dasharray="2.4 2" opacity="1"/>
<path d="M609.2,325.3 L614.4,324.8 L610.7,321.2 Z" fill="#45b9c2"/>
<path d="M613.8,324.6 C615.4,325.3 619.6,326.5 623.5,328.8 C627.4,331.1 632.7,335.0 636.9,338.5 C641.1,342.0 645.0,345.8 648.5,350.0 C652.0,354.2 655.5,359.0 658.0,363.5 C660.5,368.0 662.2,372.1 663.8,376.9 C665.4,381.7 666.7,387.2 667.7,392.3 C668.7,397.4 669.3,402.6 669.6,407.7 C669.9,412.8 669.6,417.9 669.6,423.0 C669.6,428.1 669.9,433.4 669.6,438.5 C669.3,443.6 669.0,448.7 667.7,453.8 C666.4,458.9 663.8,464.8 661.9,469.2 C660.0,473.6 658.2,476.5 656.2,480.0 C654.2,483.5 651.0,488.3 650.0,490.0" fill="none" stroke="#45b9c2" stroke-width="1.25" stroke-dasharray="2.4 2" opacity="1"/>
<path d="M594.6,349.0 L613.6,337.0" fill="none" stroke="#45b9c2" stroke-width="1.2"/>
<path d="M613.2,339.8 L616.0,335.4 L610.8,336.0 Z" fill="#45b9c2"/>
<path d="M588.8,474.0 C592.6,473.5 605.5,472.1 611.9,471.2 C618.3,470.2 622.2,469.2 627.3,468.3 C632.4,467.4 637.9,466.0 642.7,465.8 C647.5,465.6 652.4,466.4 656.2,467.3 C660.1,468.2 663.6,470.4 665.8,471.2 C668.0,472.0 666.4,470.5 669.6,471.9 C672.8,473.3 680.2,476.4 685.0,479.6 C689.8,482.8 694.7,486.4 698.5,491.2 C702.3,496.0 705.5,501.8 708.0,508.5 C710.5,515.2 712.5,523.5 713.8,531.5 C715.1,539.5 715.8,548.8 715.8,556.5 C715.8,564.2 715.1,571.0 713.8,577.7 C712.5,584.4 710.2,591.1 708.0,596.9 C705.8,602.7 702.9,607.2 700.4,612.3 C697.9,617.4 695.3,623.2 692.7,627.7 C690.1,632.2 687.6,635.5 685.0,639.2 C682.4,642.9 680.2,646.3 677.3,650.0 C674.4,653.7 670.9,657.7 667.7,661.5 C664.5,665.3 662.2,668.4 658.0,673.0 C653.8,677.6 645.2,686.7 642.7,689.4" fill="none" stroke="#45b9c2" stroke-width="1.25" stroke-dasharray="2.4 2" opacity="1"/>
<path d="M613.2,468.9 L609.0,471.6 L613.8,473.1 Z" fill="#45b9c2"/>
<path d="M595.6,492.1 L614.0,493.0" fill="none" stroke="#45b9c2" stroke-width="1.6" stroke-dasharray="2.4 2" opacity="1"/>
<path d="M612.4,495.2 L617.4,493.2 L612.6,490.7 Z" fill="#45b9c2"/>
<path d="M616.7,493.1 C618.8,493.4 624.9,495.2 629.2,494.6 C633.5,494.0 638.9,491.7 642.7,489.2 C646.6,486.7 649.4,482.8 652.3,479.6 C655.2,476.4 658.7,471.6 660.0,470.0" fill="none" stroke="#45b9c2" stroke-width="1.25" stroke-dasharray="2.4 2" opacity="1"/>
<path d="M590.8,598.8 L609.6,590.6" fill="none" stroke="#45b9c2" stroke-width="1.2"/>
<path d="M608.8,593.3 L612.2,589.4 L607.0,589.3 Z" fill="#45b9c2"/>
<path d="M611.9,589.6 C614.8,588.1 623.1,582.9 629.2,580.6 C635.3,578.3 642.4,576.4 648.5,575.8 C654.6,575.1 660.3,575.4 665.8,576.7 C671.2,578.0 676.7,580.5 681.2,583.5 C685.7,586.5 689.5,590.8 692.7,595.0 C695.9,599.2 698.1,603.0 700.4,608.5 C702.6,614.0 704.9,620.8 706.2,627.7 C707.5,634.6 708.3,646.3 708.0,650.0 C707.7,653.7 705.8,647.1 704.2,650.0 C702.6,652.9 701.1,662.2 698.5,667.3 C695.9,672.4 692.3,677.3 688.8,680.8 C685.3,684.3 681.8,686.8 677.3,688.5 C672.8,690.2 667.0,691.0 661.9,691.3 C656.8,691.6 651.3,691.3 646.5,690.4 C641.7,689.5 638.5,688.8 633.0,685.6 C627.5,682.4 620.2,676.0 613.8,671.2 C607.4,666.4 597.8,659.1 594.6,656.7" fill="none" stroke="#45b9c2" stroke-width="1.25" stroke-dasharray="2.4 2" opacity="1"/>
<path d="M607.5,669.1 L612.6,670.2 L610.2,665.6 Z" fill="#45b9c2"/>
<path d="M593.7,619.6 C595.4,619.7 600.0,620.3 604.0,620.4 C608.0,620.5 615.7,620.4 618.0,620.4" fill="none" stroke="#45b9c2" stroke-width="1.2"/>
<path d="M616.2,622.4 L621.0,620.4 L616.4,618.0 Z" fill="#45b9c2"/>
<path d="M620.6,620.4 C622.4,620.5 627.5,620.4 631.2,621.0 C634.9,621.6 638.2,621.1 642.7,623.8 C647.2,626.5 653.5,633.4 658.0,637.3 C662.5,641.1 666.8,643.9 669.6,646.9 C672.4,649.9 672.8,652.0 675.0,655.5 C677.2,659.0 680.5,663.2 683.0,668.0 C685.5,672.8 688.1,679.0 690.0,684.0 C691.9,689.0 693.4,691.6 694.6,698.1 C695.9,704.6 697.2,715.1 697.5,723.1 C697.8,731.1 697.6,738.5 696.5,746.2 C695.4,753.9 693.3,762.2 690.8,769.2 C688.2,776.2 684.7,782.7 681.2,788.5 C677.7,794.3 674.1,799.6 669.6,803.8 C665.1,808.0 659.3,811.6 654.2,813.5 C649.1,815.4 643.9,815.9 638.8,815.4 C633.7,814.9 627.7,812.5 623.5,810.6 C619.3,808.7 618.8,806.0 613.8,803.8 C608.8,801.5 597.1,798.2 593.7,797.1" fill="none" stroke="#45b9c2" stroke-width="1.25" stroke-dasharray="2.4 2" opacity="1"/>
<path d="M608.2,804.1 L613.4,803.6 L609.7,799.9 Z" fill="#45b9c2"/>
<path d="M600.4,705.8 C603.9,704.2 614.5,698.9 621.5,696.2 C628.5,693.5 639.2,690.5 642.7,689.4" fill="none" stroke="#45b9c2" stroke-width="1.4" stroke-dasharray="2.4 2" opacity="1"/>
<path d="M619.3,699.5 L623.0,695.6 L617.6,695.3 Z" fill="#45b9c2"/>
<path d="M626.3,711.5 L641.6,694.6" fill="none" stroke="#45b9c2" stroke-width="1.2"/>
<path d="M641.5,698.0 L643.0,693.0 L638.2,695.0 Z" fill="#45b9c2"/>
<path d="M603.3,772.1 L622.0,779.6" fill="none" stroke="#45b9c2" stroke-width="1.7" stroke-dasharray="2.4 2" opacity="1"/>
<path d="M619.2,781.0 L625.0,780.6 L621.0,776.4 Z" fill="#45b9c2"/>
<path d="M624.4,780.4 C627.5,781.4 636.5,785.1 642.7,786.5 C649.0,787.9 656.1,789.1 661.9,788.5 C667.7,787.9 673.4,785.9 677.3,782.7 C681.1,779.5 683.4,774.7 685.0,769.2 C686.6,763.8 686.9,757.0 686.9,750.0 C686.9,743.0 686.6,734.3 685.0,726.9 C683.4,719.5 680.5,711.4 677.3,705.8 C674.1,700.2 670.9,695.9 665.8,693.3 C660.7,690.7 649.7,690.9 646.5,690.4" fill="none" stroke="#45b9c2" stroke-width="1.25" stroke-dasharray="2.4 2" opacity="1"/>
<circle cx="648.5" cy="210.2" r="3" fill="#fff" stroke="#4dbcb0" stroke-width="1.3"/>
<circle cx="641.2" cy="236.7" r="3" fill="#fff" stroke="#4dbcb0" stroke-width="1.3"/>
<circle cx="622.5" cy="250" r="4.8" fill="#fff" stroke="#4dbcb0" stroke-width="1.3"/>
<circle cx="652.3" cy="255.8" r="5.8" fill="#fff" stroke="#4dbcb0" stroke-width="1.3"/>
<circle cx="678.8" cy="253.8" r="3.5" fill="#fff" stroke="#4dbcb0" stroke-width="1.3"/>
<circle cx="646" cy="278.5" r="4.4" fill="#fff" stroke="#4dbcb0" stroke-width="1.3"/>
<circle cx="669.6" cy="282.7" r="6.7" fill="#fff" stroke="#4dbcb0" stroke-width="1.3"/>
<circle cx="638.5" cy="298.1" r="3.6" fill="#fff" stroke="#4dbcb0" stroke-width="1.3"/>
<circle cx="663.8" cy="314.6" r="4.4" fill="#fff" stroke="#4dbcb0" stroke-width="1.3"/>
<circle cx="647.5" cy="350" r="31.6" fill="none" stroke="#b4e1df" stroke-width="0.9"/>
<circle cx="654" cy="633.5" r="31.5" fill="none" stroke="#b4e1df" stroke-width="0.9"/>
<text x="386.3" y="138.1" font-size="25" font-weight="bold" fill="#000" stroke="#000" stroke-width="1.4" stroke-linejoin="round" textLength="53.6" lengthAdjust="spacingAndGlyphs">CO<tspan font-size="20">2</tspan></text>
<text x="620.3" y="358.5" font-size="25" font-weight="bold" fill="#000" stroke="#000" stroke-width="1.4" stroke-linejoin="round" textLength="55.5" lengthAdjust="spacingAndGlyphs">H<tspan font-size="20">2</tspan>O</text>
<text x="638.5" y="642.8" font-size="25" font-weight="bold" fill="#000" stroke="#000" stroke-width="1.4" stroke-linejoin="round" textLength="32.3" lengthAdjust="spacingAndGlyphs">O<tspan font-size="20">2</tspan></text>
<text x="378.4" y="414.1" font-size="14.1" font-style="normal" fill="#111" textLength="140.4" lengthAdjust="spacingAndGlyphs" stroke="#111" stroke-width="0.45">inquinamento acustico</text>
<text x="378.4" y="425.1" font-size="8.4" font-style="italic" fill="#111" textLength="70.6" lengthAdjust="spacingAndGlyphs" stroke="#111" stroke-width="0.35">acoustic pollution</text>
<text x="408.6" y="782.5" font-size="14.1" font-style="normal" fill="#111" textLength="77.2" lengthAdjust="spacingAndGlyphs" stroke="#111" stroke-width="0.45">polveri sottili</text>
<text x="408.6" y="792.8" font-size="8.4" font-style="italic" fill="#111" textLength="54.4" lengthAdjust="spacingAndGlyphs" stroke="#111" stroke-width="0.35">dust particles</text>
</svg>
</body>
</html>
